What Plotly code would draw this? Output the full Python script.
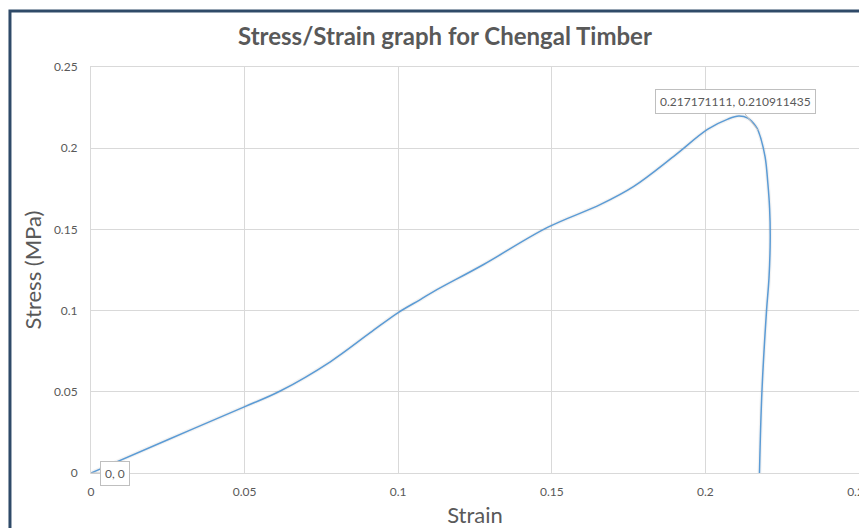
import plotly.graph_objects as go

# Stress/strain readings for the Chengal timber sample
strain = [0, 0.025, 0.0499, 0.0616, 0.0779, 0.0909, 0.1, 0.1072, 0.1115, 0.1278,
          0.1486, 0.1659, 0.1767, 0.1897, 0.2008, 0.2073, 0.2109, 0.2138, 0.2164,
          0.217171111, 0.2194, 0.2203, 0.2209, 0.2211, 0.2207, 0.2199, 0.2184, 0.2176]
stress = [0, 0.0205, 0.0407, 0.0505, 0.0685, 0.0864, 0.0988, 0.1068, 0.1117, 0.1284,
          0.1512, 0.1654, 0.1765, 0.195, 0.2117, 0.2179, 0.2198, 0.2185, 0.2136,
          0.210911435, 0.195, 0.179, 0.163, 0.145, 0.12, 0.1, 0.05, 0]

# indices of the points that carry a data label
labelled = [0, 19]

x_ticks = [0, 0.05, 0.1, 0.15, 0.2, 0.25]
y_ticks = [0, 0.05, 0.1, 0.15, 0.2, 0.25]

FONT = "Lato"
GREY = "#595959"
GRID = "#d9d9d9"

fig = go.Figure()

# soft shadow under the series line
fig.add_trace(go.Scatter(
    x=strain, y=stress, mode="lines",
    line=dict(color="rgba(0,0,0,0.05)", width=4, shape="spline", smoothing=1),
    hoverinfo="skip", showlegend=False,
))
fig.add_trace(go.Scatter(
    x=strain, y=stress, mode="lines",
    line=dict(color="#5B9BD5", width=1.5, shape="spline", smoothing=1),
    showlegend=False,
))

def fmt(v):
    return "0" if v == 0 else f"{v}"

offsets = {0: (24, 0), 19: (-23, -29)}
for i in labelled:
    ax, ay = offsets[i]
    fig.add_annotation(
        x=strain[i], y=stress[i], xref="x", yref="y",
        text=f"{fmt(strain[i])}, {fmt(stress[i])}",
        showarrow=True, arrowhead=0, arrowwidth=1, arrowcolor="#bfbfbf",
        ax=ax, ay=ay, bgcolor="white", bordercolor="#bfbfbf", borderwidth=1,
        borderpad=4, font=dict(family=FONT, size=12, color=GREY),
    )

# dark outline of the chart object
fig.add_shape(type="rect", xref="paper", yref="paper",
              x0=-0.1055, x1=1.5, y0=-1, y1=1.138,
              line=dict(color="#2F4A68", width=3), layer="above")

fig.update_layout(
    width=859, height=528,
    margin=dict(l=91, r=0, t=67, b=55, autoexpand=False),
    paper_bgcolor="white", plot_bgcolor="white",
    title=dict(text="<b>Stress/Strain graph for Chengal Timber</b>",
               x=0.518, xref="container", xanchor="center",
               y=1 - 37 / 528, yref="container", yanchor="middle",
               font=dict(family=FONT, size=24, color=GREY)),
    xaxis=dict(range=[0, 0.25], tickvals=x_ticks, ticktext=[fmt(v) for v in x_ticks],
               automargin=False,
               showgrid=True, gridcolor=GRID, gridwidth=1, zeroline=False,
               showline=True, linecolor=GRID, linewidth=1, mirror=True,
               ticks="", ticklabelstandoff=8, ticklabeloverflow="allow",
               tickfont=dict(family=FONT, size=12, color=GREY),
               title=dict(text="Strain", standoff=15,
                          font=dict(family=FONT, size=22, color=GREY))),
    yaxis=dict(range=[0, 0.25], tickvals=y_ticks, ticktext=[fmt(v) for v in y_ticks],
               automargin=False,
               showgrid=True, gridcolor=GRID, gridwidth=1, zeroline=False,
               showline=True, linecolor=GRID, linewidth=1,
               ticks="", ticklabelstandoff=10,
               tickfont=dict(family=FONT, size=12, color=GREY),
               title=dict(text="Stress (MPa)", standoff=6,
                          font=dict(family=FONT, size=22, color=GREY))),
)

fig.write_html("out.html")
